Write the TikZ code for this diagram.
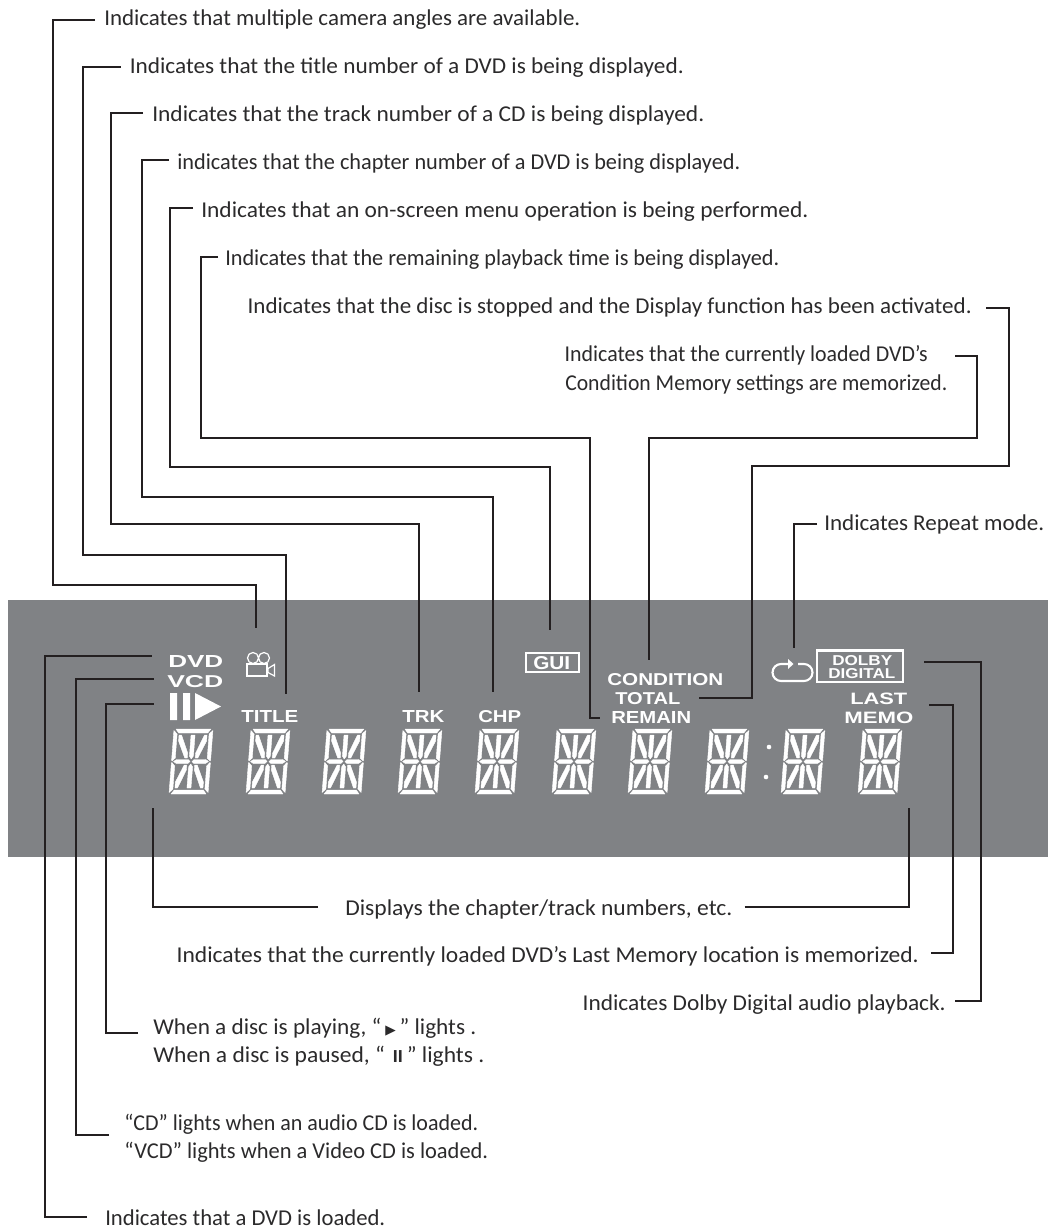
\documentclass[tikz,border=0pt]{standalone}
\usepackage{graphicx}
\usepackage{fontspec}
\setmainfont{Carlito}
\newfontfamily\lcdfont{Liberation Sans}[BoldFont={Liberation Sans Bold}]
\newfontfamily\symfont{DejaVu Sans}
\definecolor{ink}{HTML}{231F20}
\definecolor{txt}{HTML}{2B2A2B}
\definecolor{band}{HTML}{808285}
\newdimen\pxu \pxu=0.75pt
\newcommand\bw[2]{\resizebox{#1\pxu}{\height}{#2}}
\newcommand\lw[3]{\resizebox{#1\pxu}{#2\pxu}{\lcdfont\bfseries #3}}
\tikzset{
  conn/.style={draw=ink,line width=1.5pt,line cap=butt,line join=miter},
  off/.code={\pgfmathsetmacro\oh{(11+#1)*0.75}\pgfmathsetmacro\od{(11-#1)*0.75}\tikzset{text height=\oh pt,text depth=\od pt}},
  bodytext/.style={font=\fontsize{17pt}{20pt}\selectfont,text=txt,inner ysep=0pt},
  labl/.style 2 args={bodytext,anchor=west,off=#1,inner xsep=#2*0.75pt},
  labr/.style 2 args={bodytext,anchor=east,off=#1,inner xsep=#2*0.75pt},
  plain/.style={bodytext,anchor=base west,inner xsep=0pt},
  lcd/.style={text=white,anchor=base west,inner sep=0pt},
  lit/.style={fill=white,draw=none},
  icon/.style={draw=white,line width=0.9pt,fill=none},
  seg/.style={fill=white,draw=white,line width=0.3pt,line join=round},
  digitpic/.pic={
    \path[seg] (2,0)--(37,0)--(34,4)--(5,4)--cycle;
    \path[seg] (2,65)--(37,65)--(34,61)--(5,61)--cycle;
    \path[seg] (0,1.5)--(3.5,5)--(3.5,29)--(0.5,32)--(0,31)--cycle;
    \path[seg] (0,34)--(0.5,33.5)--(3.5,37)--(3.5,60)--(0,63.5)--cycle;
    \path[seg] (39,1.5)--(35.5,5)--(35.5,29)--(38.5,32)--(39,31)--cycle;
    \path[seg] (39,34)--(38.5,33.5)--(35.5,37)--(35.5,60)--(39,63.5)--cycle;
    \path[seg] (2,32.5)--(5,30.5)--(16.5,30.5)--(18.5,32.5)--(16.5,34.5)--(5,34.5)--cycle;
    \path[seg] (20.5,32.5)--(22.5,30.5)--(34,30.5)--(37,32.5)--(34,34.5)--(22.5,34.5)--cycle;
    \path[seg] (17.5,6)--(21.5,6)--(21.5,27)--(19.5,30)--(17.5,27)--cycle;
    \path[seg] (17.5,59)--(21.5,59)--(21.5,38)--(19.5,35)--(17.5,38)--cycle;
    \path[seg] (5.5,6)--(8,6)--(15.5,24)--(15.5,29)--(13,29)--(5.5,12)--cycle;
    \path[seg] (33.5,6)--(31,6)--(23.5,24)--(23.5,29)--(26,29)--(33.5,12)--cycle;
    \path[seg] (5.5,59)--(8,59)--(15.5,41)--(15.5,36)--(13,36)--(5.5,53)--cycle;
    \path[seg] (33.5,59)--(31,59)--(23.5,41)--(23.5,36)--(26,36)--(33.5,53)--cycle;
  }
}
\begin{document}
\begin{tikzpicture}[x=0.75pt,y=-0.75pt]
\useasboundingbox (0,0) rectangle (1048,1230);
\fill[band] (8,600) rectangle (1048,857);

% --- top labels
\node[labl={6}{9}]  (t1) at (95,20)    {\bw{476}{Indicates that multiple camera angles are available.}};
\node[labl={7.3}{9}]  (t2) at (120.5,66.7) {\bw{554}{Indicates that the title number of a DVD is being displayed.}};
\node[labl={8.5}{9}]  (t3) at (143,113) {\bw{552}{Indicates that the track number of a CD is being displayed.}};
\node[labl={9.5}{8}]  (t4) at (169,160.5) {\bw{563}{indicates that the chapter number of a DVD is being displayed.}};
\node[labl={10}{8}] (t5) at (193,208) {\bw{607}{Indicates that an on-screen menu operation is being performed.}};
\node[labl={9}{7}]  (t6) at (218,257) {\bw{554}{Indicates that the remaining playback time is being displayed.}};
\node[labr={6}{14}] (t7) at (986,308) {\bw{724}{Indicates that the disc is stopped and the Display function has been activated.}};
\node[labr={6}{27}] (t8) at (955,355.7) {\bw{363}{Indicates that the currently loaded DVD’s}};
\node[plain] (t8b) at (565,390) {\bw{382}{Condition Memory settings are memorized.}};
\node[labl={6.7}{7}] (t9) at (817,524) {\bw{220}{Indicates Repeat mode.}};

% --- bottom labels
\node[labl={8}{12}] (b1) at (333,907) {\bw{387}{Displays the chapter/track numbers, etc.}};
\node[labr={9}{12}] (b2) at (931,953) {\bw{742}{Indicates that the currently loaded DVD’s Last Memory location is memorized.}};
\node[labr={9}{9}]  (b3) at (955,1001) {\bw{363}{Indicates Dolby Digital audio playback.}};
\node[labl={1}{15}] (b4) at (138,1033) {\bw{323}{When a disc is playing, “\,{\symfont\fontsize{10pt}{10pt}\selectfont ▶}\,” lights .}};
\node[plain] (b4b) at (153,1062) {\bw{331}{When a disc is paused, “\,\,{\lcdfont\bfseries\fontsize{13pt}{13pt}\selectfont II}\,” lights .}};
\node[labl={-5}{15}] (b5) at (109,1135) {\bw{354}{“CD” lights when an audio CD is loaded.}};
\node[plain] (b5b) at (124,1158) {\bw{364}{“VCD” lights when a Video CD is loaded.}};
\node[labl={8}{18}] (b6) at (87,1217) {\bw{280}{Indicates that a DVD is loaded.}};

% --- display labels
\node[lcd] (dvd) at (168,667) {\lw{55}{12}{DVD}};
\node[lcd] (vcd) at (167,687) {\lw{56}{12}{VCD}};
\node[lcd] (title) at (241,722.5) {\lw{57}{12}{TITLE}};
\node[lcd] (trk) at (402,722.5) {\lw{42}{12}{TRK}};
\node[lcd] (chp) at (478,722.5) {\lw{43}{12}{CHP}};
\node[lcd] (cond) at (607,685) {\lw{116}{12}{CONDITION}};
\node[lcd] (total) at (615,704) {\lw{65}{12}{TOTAL}};
\node[lcd] (remain) at (611,723) {\lw{80}{12}{REMAIN}};
\node[lcd] (last) at (850,704) {\lw{57}{11.5}{LAST}};
\node[lcd] (memo) at (844,723) {\lw{69}{11.5}{MEMO}};
\node[lcd] (gui) at (533,669) {\lw{37}{13}{GUI}};
\node[lcd] (dolby) at (832,665) {\lw{60}{10}{DOLBY}};
\node[lcd] (digital) at (828,678) {\lw{67}{10}{DIGITAL}};
\draw[white,line width=1.5pt] (526,653) rectangle (579,672);
\draw[white,line width=1.8pt] (817,650.5) rectangle (903,682);

% --- icons
\fill[lit] (170,693) rectangle (177,720) (183,693) rectangle (190,720);
\fill[lit] (195,693) -- (221,706.5) -- (195,720) -- cycle;
\draw[icon] (253,658) circle (5.5) (264,658) circle (5.5);
\draw[icon] (247,664) rectangle (267,676);
\draw[icon] (268,668.5) -- (274.5,664.5) -- (274.5,676) -- (268,672.5) -- cycle;
\draw[white,line width=1.6pt] (790,664) -- (781,664) arc[start angle=90,end angle=270,x radius=8.5,y radius=-8.5] -- (804,681) arc[start angle=-90,end angle=90,x radius=8.5,y radius=-8.5] -- (798,664);
\fill[lit] (788,659) -- (793.5,664) -- (788,669) -- cycle;
\fill[lit] (769,747) circle (2.3) (766,777) circle (2.3);

% --- digits
\foreach \dx in {169,246,322,398,475,552,628,705,781,858}
  \pic[xslant=0.077] at ({\dx+5},729) {digitpic};

% --- free ends
\coordinate (ecam) at (256,628);
\coordinate (etitle) at (286,694);
\coordinate (etrk) at (419,692);
\coordinate (echp) at (493,692);
\coordinate (egui) at (550,630);
\coordinate (eremain) at (600,718);
\coordinate (econd) at (649,660);
\coordinate (etotal) at (699,698);
\coordinate (erep) at (794,648);
\coordinate (edvd) at (152,656);
\coordinate (evcd) at (154,679);
\coordinate (eplay) at (154,704);
\coordinate (edl) at (153,808);
\coordinate (edr) at (909,808);
\coordinate (elast) at (929,705);
\coordinate (edolby) at (924,662);

% --- connectors
\draw[conn] (t1.west) -| (53,585) -| (ecam);
\draw[conn] (t2.west) -| (83,555) -| (etitle);
\draw[conn] (t3.west) -| (111,524) -| (etrk);
\draw[conn] (t4.west) -| (142,497) -| (echp);
\draw[conn] (t5.west) -| (170,467) -| (egui);
\draw[conn] (t6.west) -| (201,438) -| (590,718) -- (eremain);
\draw[conn] (t7.east) -| (1009,465.7) -| (752,698) -- (etotal);
\draw[conn] (t8.east) -| (977,437.7) -| (econd);
\draw[conn] (t9.west) -| (erep);
\draw[conn] (b1.west) ++(-15,0) -| (edl);
\draw[conn] (b1.east) -| (edr);
\draw[conn] (b2.east) -| (953,705) -- (elast);
\draw[conn] (b3.east) -| (981,662) -- (edolby);
\draw[conn] (b4.west) -| (106,704) -- (eplay);
\draw[conn] (b5.west) -| (76,679) -- (evcd);
\draw[conn] (b6.west) -| (45,656) -- (edvd);
\end{tikzpicture}
\end{document}
